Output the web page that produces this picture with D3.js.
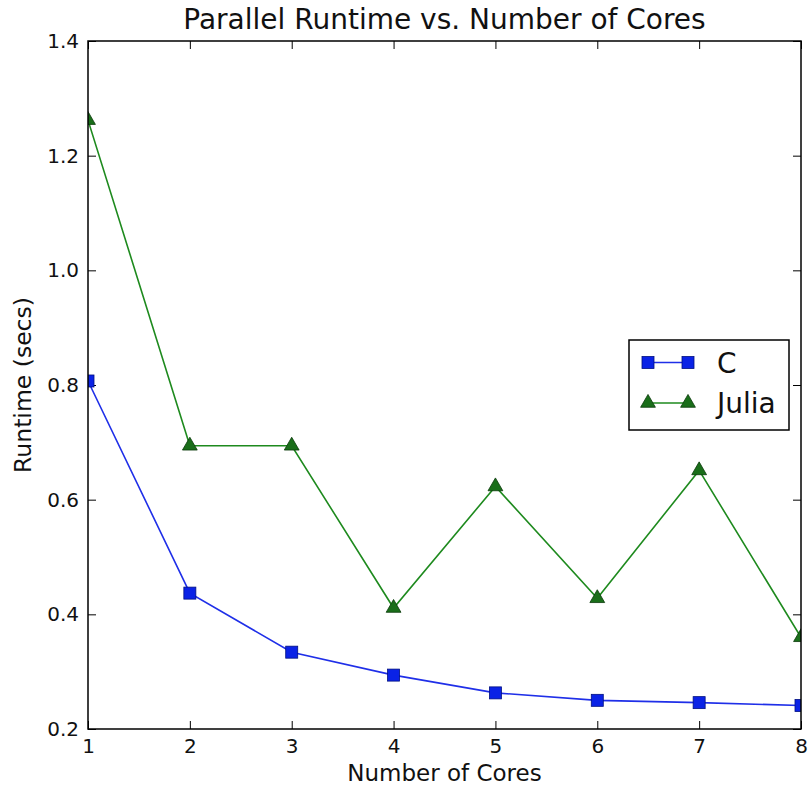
<!DOCTYPE html>
<html>
<head>
<meta charset="utf-8">
<script src="https://cdn.jsdelivr.net/npm/d3@7"></script>
<style>
  html, body { margin: 0; padding: 0; background: #fff; }
  svg { display: block; font-family: "DejaVu Sans", sans-serif; }
</style>
</head>
<body>
<svg id="chart" width="810" height="788"></svg>
<script>
const cores = [1, 2, 3, 4, 5, 6, 7, 8];
const cRuntime = [0.807, 0.437, 0.334, 0.294, 0.263, 0.250, 0.246, 0.241];
const juliaRuntime = [1.262, 0.694, 0.694, 0.411, 0.623, 0.428, 0.651, 0.360];
const xTicks = [1, 2, 3, 4, 5, 6, 7, 8];
const yTicks = [0.2, 0.4, 0.6, 0.8, 1.0, 1.2, 1.4];
const seriesNames = ["C", "Julia"];

const svg = d3.select("#chart");
const L = 88, R = 801, T = 41, B = 729;
const x = d3.scaleLinear().domain([1, 8]).range([L, R]);
const y = d3.scaleLinear().domain([0.2, 1.4]).range([B, T]);

svg.append("defs").append("clipPath").attr("id", "clip")
  .append("rect").attr("x", L).attr("y", T).attr("width", R - L).attr("height", B - T);

const tickLen = 8;
const gx = svg.append("g").attr("transform", `translate(0,${B})`)
  .call(d3.axisBottom(x).tickValues(xTicks).tickFormat(d3.format("d")).tickSizeInner(-tickLen).tickSizeOuter(0).tickPadding(10));
const gxt = svg.append("g").attr("transform", `translate(0,${T})`)
  .call(d3.axisTop(x).tickValues(xTicks).tickFormat("").tickSizeInner(-tickLen).tickSizeOuter(0));
const gy = svg.append("g").attr("transform", `translate(${L},0)`)
  .call(d3.axisLeft(y).tickValues(yTicks).tickFormat(d3.format(".1f")).tickSizeInner(-tickLen).tickSizeOuter(0).tickPadding(9));
const gyr = svg.append("g").attr("transform", `translate(${R},0)`)
  .call(d3.axisRight(y).tickValues(yTicks).tickFormat("").tickSizeInner(-tickLen).tickSizeOuter(0));
[gx, gxt, gy, gyr].forEach(g => {
  g.select(".domain").remove();
  g.selectAll(".tick line").attr("stroke", "#000").attr("stroke-width", 1);
  g.selectAll(".tick text").attr("fill", "#111").attr("font-size", 20).attr("font-family", "DejaVu Sans, sans-serif");
});

const plot = svg.append("g").attr("clip-path", "url(#clip)");
const line = d3.line().x((d, i) => x(cores[i])).y(d => y(d));

plot.append("path").datum(cRuntime).attr("d", line)
  .attr("fill", "none").attr("stroke", "#1f2fe8").attr("stroke-width", 1.6);
plot.append("path").datum(juliaRuntime).attr("d", line)
  .attr("fill", "none").attr("stroke", "#1e8a1e").attr("stroke-width", 1.6);

const sq = 12;
plot.selectAll("rect.c").data(cRuntime).enter().append("rect")
  .attr("x", (d, i) => x(cores[i]) - sq / 2).attr("y", d => y(d) - sq / 2)
  .attr("width", sq).attr("height", sq)
  .attr("fill", "#0a22e6").attr("stroke", "#001080").attr("stroke-width", 0.8);

const tri = d3.symbol().type(d3.symbolTriangle).size(95);
plot.selectAll("path.j").data(juliaRuntime).enter().append("path")
  .attr("d", tri)
  .attr("transform", (d, i) => `translate(${x(cores[i])},${y(d)})`)
  .attr("fill", "#1a6e1a").attr("stroke", "#0a3a0a").attr("stroke-width", 0.8);

svg.append("rect").attr("x", L).attr("y", T).attr("width", R - L).attr("height", B - T)
  .attr("fill", "none").attr("stroke", "#000").attr("stroke-width", 1.5);

svg.append("text").attr("x", (L + R) / 2).attr("y", 29).attr("text-anchor", "middle")
  .attr("font-size", 28).attr("fill", "#111").text("Parallel Runtime vs. Number of Cores");
svg.append("text").attr("x", (L + R) / 2).attr("y", 781).attr("text-anchor", "middle")
  .attr("font-size", 23).attr("fill", "#111").text("Number of Cores");
svg.append("text").attr("transform", `translate(31,${(T + B) / 2}) rotate(-90)`).attr("text-anchor", "middle")
  .attr("font-size", 23.5).attr("fill", "#111").text("Runtime (secs)");

const lg = svg.append("g");
lg.append("rect").attr("x", 629).attr("y", 340).attr("width", 160).attr("height", 90)
  .attr("fill", "#fff").attr("stroke", "#000").attr("stroke-width", 1.5);
const legRows = [
  { name: seriesNames[0], y: 362.5, color: "#1f2fe8", marker: "sq" },
  { name: seriesNames[1], y: 403, color: "#1e8a1e", marker: "tri" }
];
legRows.forEach(r => {
  lg.append("line").attr("x1", 648).attr("x2", 688).attr("y1", r.y).attr("y2", r.y)
    .attr("stroke", r.color).attr("stroke-width", 1.6);
  [648, 688].forEach(cx => {
    if (r.marker === "sq") {
      lg.append("rect").attr("x", cx - sq / 2).attr("y", r.y - sq / 2).attr("width", sq).attr("height", sq)
        .attr("fill", "#0a22e6").attr("stroke", "#001080").attr("stroke-width", 0.8);
    } else {
      lg.append("path").attr("d", tri).attr("transform", `translate(${cx},${r.y})`)
        .attr("fill", "#1a6e1a").attr("stroke", "#0a3a0a").attr("stroke-width", 0.8);
    }
  });
  lg.append("text").attr("x", 717).attr("y", r.y).attr("dy", "0.36em")
    .attr("font-size", 28).attr("fill", "#111").text(r.name);
});
</script>
</body>
</html>
